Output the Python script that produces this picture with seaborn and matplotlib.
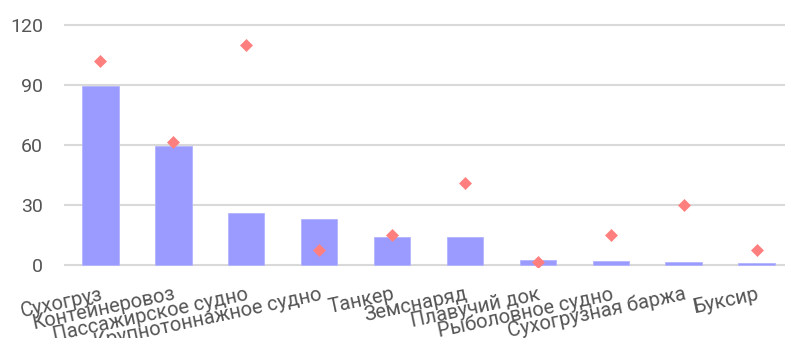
import matplotlib
matplotlib.use("Agg")
import matplotlib.pyplot as plt
import seaborn as sns
import pandas as pd

# Vessel types and their two measures
categories = ["Сухогруз", "Контейнеровоз", "Пассажирское судно",
              "Крупнотоннажное судно", "Танкер", "Земснаряд",
              "Плавучий док", "Рыболовное судно", "Сухогрузная баржа", "Буксир"]
bar_values = [89.2, 59.2, 25.6, 22.7, 13.7, 13.6, 2.4, 1.7, 1.2, 0.7]
point_values = [101.9, 61.4, 109.7, 7.4, 14.7, 40.6, 1.2, 14.7, 29.9, 7.4]
y_ticks = [0, 30, 60, 90, 120]

bar_color = "#9b9bff"
point_color = "#ff7f7f"
text_color = "#555555"
grid_color = "#d9d9d9"

df = pd.DataFrame({"category": categories, "bar": bar_values, "point": point_values})

sns.set_theme(style="white")
plt.rcParams["font.family"] = ["Roboto", "DejaVu Sans"]

W, H, DPI = 785, 338, 100
fig = plt.figure(figsize=(W / DPI, H / DPI), dpi=DPI)

# axes placement in pixels
left_px, right_px = 64, 785
y0_px, y120_px = 264.5, 24.5
ymin, ymax = -1.0, 124.0
ppu = (y0_px - y120_px) / 120.0
bottom_px = y0_px + (0 - ymin) * ppu
top_px = y0_px - ymax * ppu
ax = fig.add_axes([left_px / W, 1 - bottom_px / H,
                   (right_px - left_px) / W, (bottom_px - top_px) / H])

sns.barplot(data=df, x="category", y="bar", color=bar_color, saturation=1,
            width=0.5, edgecolor="#b4b4ff", linewidth=0.6, ax=ax, zorder=2)
sns.stripplot(data=df, x="category", y="point", color=point_color, marker="D",
              size=6.6, jitter=False, linewidth=0, ax=ax, zorder=3)

ax.set_xlim(-0.5, 9.39)
ax.set_ylim(ymin, ymax)
ax.set_yticks(y_ticks)
ax.set_yticklabels([str(t) for t in y_ticks])
ax.yaxis.grid(True, color=grid_color, linewidth=1.5)
ax.set_axisbelow(True)
for s in ax.spines.values():
    s.set_visible(False)
ax.set_xlabel("")
ax.set_ylabel("")

ax.tick_params(axis="y", length=0, pad=15, labelsize=14, labelcolor=text_color)
ax.tick_params(axis="x", length=0, pad=13, labelsize=14.5, labelcolor=text_color)
for lbl in ax.get_xticklabels():
    lbl.set_rotation(12)
    lbl.set_ha("right")
    lbl.set_va("top")
    lbl.set_rotation_mode("anchor")

fig.savefig("out.png", dpi=DPI, facecolor="white")
